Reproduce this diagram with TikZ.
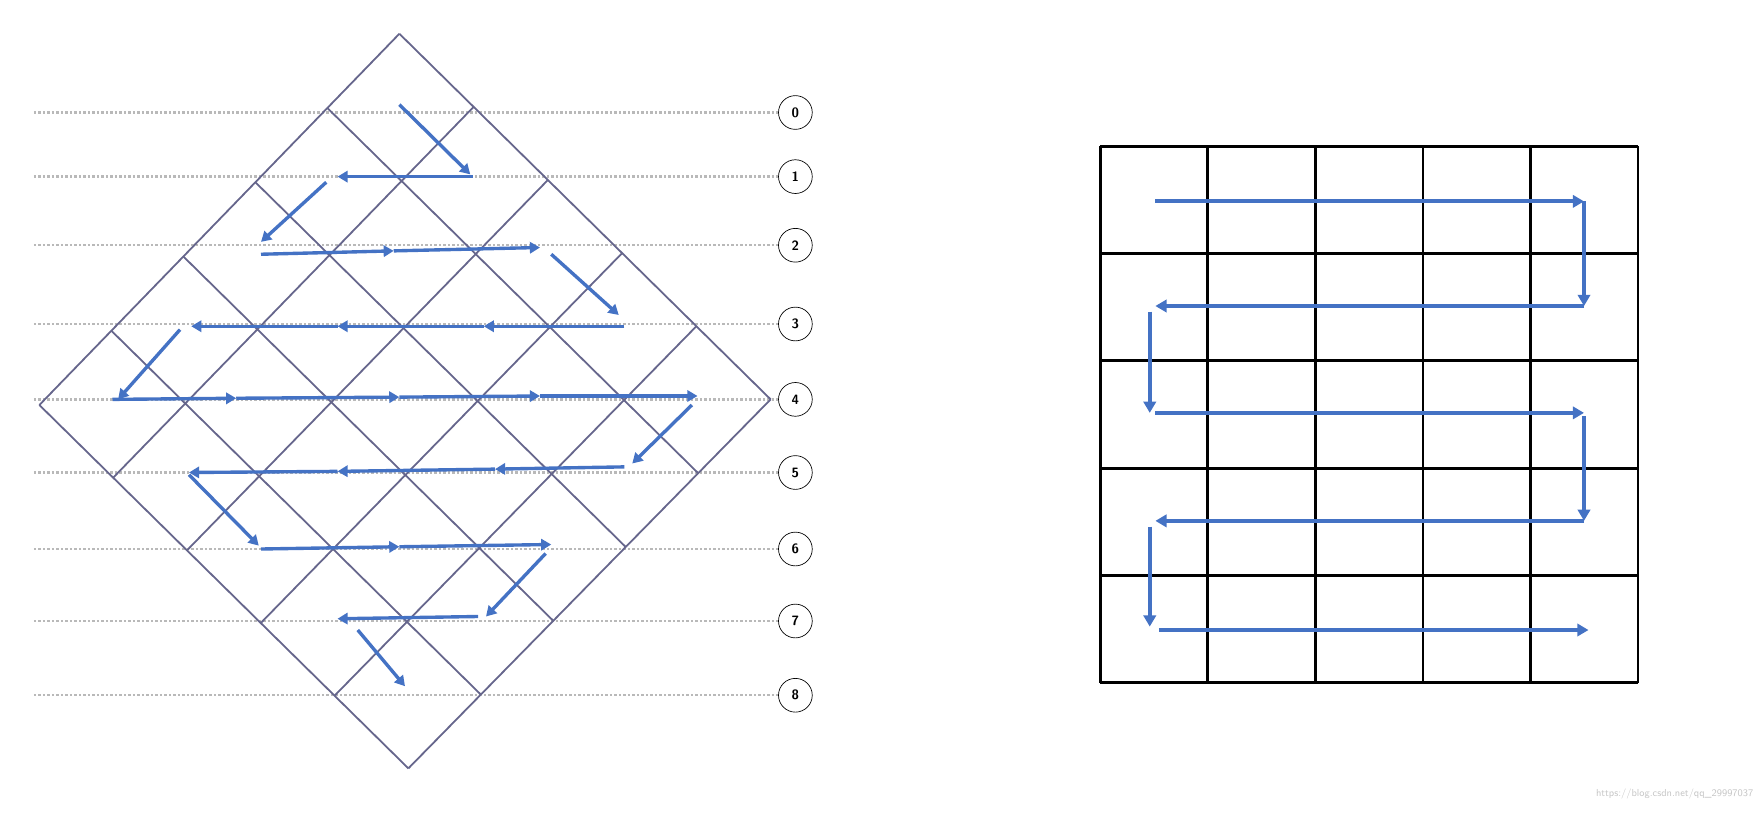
\documentclass[tikz,border=0pt]{standalone}
\usetikzlibrary{calc,arrows.meta}
\begin{document}
\begin{tikzpicture}[x=1pt,y=-1pt,
  grd/.style={draw=black!75!blue!60, line width=1.6pt},
  dotl/.style={draw=gray!55, line width=2pt, dash pattern=on 2pt off 2pt},
  lab/.style={circle, draw=black, fill=white, line width=0.6pt, minimum size=30pt, inner sep=0pt, font=\sffamily\bfseries\large},
  barr/.style={draw={rgb,255:red,68;green,114;blue,196}, line width=3.5pt, -{Triangle[length=10pt,width=11pt]}},
  darr/.style={draw={rgb,255:red,68;green,114;blue,196}, line width=3pt, -{Triangle[length=9pt,width=10pt]}},
  sq/.style={draw=black, line width=2.5pt}]
\useasboundingbox (0,0) rectangle (1568,722);
% dotted lines and labels
\foreach \i/\y in {0/100,1/157,2/218,3/288,4/355,5/420,6/488,7/552,8/618}{
  \node[lab] (n\i) at (707,\y) {\i};
  \coordinate (s\i) at (30,\y);
  \draw[dotl] (s\i) -- (n\i.west);
}
% diamond grid
\coordinate (T) at (355,30); \coordinate (L) at (35,360);
\coordinate (R) at (685,355); \coordinate (B) at (363,683);
\foreach \i in {0,...,5}{
  \draw[grd] ($(T)!\i/5!(L)$) -- ($(R)!\i/5!(B)$);
  \draw[grd] ($(T)!\i/5!(R)$) -- ($(L)!\i/5!(B)$);
}
% diamond zigzag
\foreach \a/\b in {355/93/418/155, 420/157/300/157, 290/162/232/215,
  232/226/350/223, 350/223/480/220, 490/226/550/280,
  555/290/430/290, 430/290/300/290, 300/290/170/290, 160/293/105/355,
  100/355/210/354, 210/354/355/353, 355/353/480/352, 480/352/620/352, 615/360/562/412,
  555/415/440/417, 440/417/300/419, 300/419/168/420, 168/422/230/485,
  232/488/355/486, 355/486/490/484, 485/492/432/548,
  425/548/300/550, 318/560/360/610}{}
\foreach \x/\y/\u/\v in {355/93/418/155, 420/157/300/157, 290/162/232/215,
  232/226/350/223, 350/223/480/220, 490/226/550/280,
  555/290/430/290, 430/290/300/290, 300/290/170/290, 160/293/105/355,
  100/355/210/354, 210/354/355/353, 355/353/480/352, 480/352/620/352, 615/360/562/412,
  555/415/440/417, 440/417/300/419, 300/419/168/420, 168/422/230/485,
  232/488/355/486, 355/486/490/484, 485/492/432/548,
  425/548/300/550, 318/560/360/610}{
  \coordinate (p) at (\x,\y); \coordinate (q) at (\u,\v);
  \draw[darr] (p) -- (q);
}
% right grid
\foreach \i in {0,...,5}{
  \coordinate (h\i) at (978,130+95.4*\i); \coordinate (H\i) at (1456,130+95.4*\i);
  \coordinate (v\i) at (978+95.6*\i,130); \coordinate (V\i) at (978+95.6*\i,607);
  \draw[sq] (h\i) -- (H\i); \draw[sq] (v\i) -- (V\i);
}
\coordinate (a1) at (1027,179); \coordinate (a2) at (1408,179);
\coordinate (a3) at (1408,272); \coordinate (a4) at (1027,272);
\coordinate (a5) at (1022,277); \coordinate (a6) at (1022,367);
\coordinate (a7) at (1027,367); \coordinate (a8) at (1408,367);
\coordinate (a9) at (1408,370); \coordinate (a10) at (1408,463);
\coordinate (a11) at (1027,463); \coordinate (a12) at (1022,468);
\coordinate (a13) at (1022,557); \coordinate (a14) at (1030,560);
\coordinate (a15) at (1412,560);
\draw[barr] (a1) -- (a2);
\draw[barr] (a2) -- (a3);
\draw[barr] (a3) -- (a4);
\draw[barr] (a5) -- (a6);
\draw[barr] (a7) -- (a8);
\draw[barr] (a9) -- (a10);
\draw[barr] (a10) -- (a11);
\draw[barr] (a12) -- (a13);
\draw[barr] (a14) -- (a15);
\node[anchor=east, text=gray!45, font=\sffamily\small] (wm) at (1562,706) {https://blog.csdn.net/qq\_29997037};
\end{tikzpicture}
\end{document}
